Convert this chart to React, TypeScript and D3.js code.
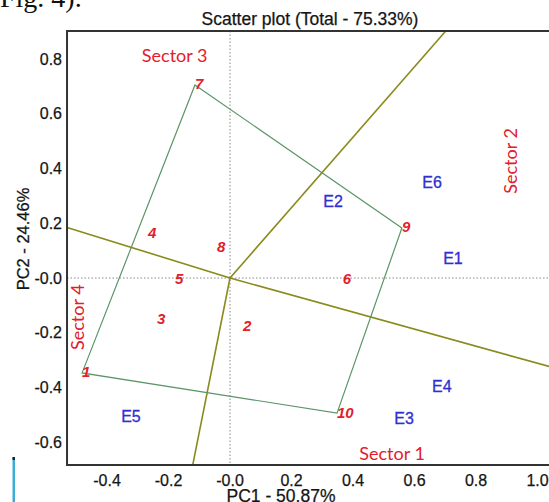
import * as d3 from "d3";

// GGE biplot "which-won-where" view: genotypes (red), environments (blue),
// convex hull of outer genotypes and sector rays perpendicular to its edges.
const genotypes = ["1", "2", "3", "4", "5", "6", "7", "8", "9", "10"];
const genoPC1 = [-0.481, 0.042, -0.237, -0.267, -0.179, 0.367, -0.114, -0.042, 0.559, 0.348];
const genoPC2 = [-0.347, -0.176, -0.15, 0.161, -0.004, -0.004, 0.706, 0.11, 0.183, -0.494];

const envs = ["E1", "E2", "E3", "E4", "E5", "E6"];
const envPC1 = [0.725, 0.335, 0.566, 0.689, -0.322, 0.657];
const envPC2 = [0.073, 0.278, -0.512, -0.395, -0.508, 0.351];

const hull = ["7", "9", "10", "1"];

const sectors = ["Sector 1", "Sector 2", "Sector 3", "Sector 4"];
const sectorPC1 = [0.527, 0.91, -0.18, -0.498];
const sectorPC2 = [-0.64, 0.428, 0.815, -0.143];
const sectorRot = [0, -90, 0, -90];

const xTicks = [-0.4, -0.2, 0, 0.2, 0.4, 0.6, 0.8, 1.0];
const yTicks = [-0.6, -0.4, -0.2, 0, 0.2, 0.4, 0.6, 0.8];

const X0 = -0.53, X1 = 1.12, Y0 = -0.684, Y1 = 0.903;

const x = d3.scaleLinear().domain([0, 1]).range([230, 537.5]);
const y = d3.scaleLinear().domain([0, 1]).range([278, 4.5]);

const RED = "#e3202a";
const BLUE = "#2f2fd2";
const OLIVE = "#8a8a1c";
const GREEN = "#5b9467";
// the original prints a plain hyphen, and "-0.0" at the origin
const fmt = (v: number) => (v === 0 ? "-0.0" : v.toFixed(1));

function rays() {
  const pts = hull.map((g) => {
    const i = genotypes.indexOf(g);
    return [genoPC1[i], genoPC2[i]];
  });
  return pts.map((a, k) => {
    const b = pts[(k + 1) % pts.length];
    const ex = b[0] - a[0], ey = b[1] - a[1];
    let dx = ey, dy = -ex;
    const mx = (a[0] + b[0]) / 2, my = (a[1] + b[1]) / 2;
    if (dx * mx + dy * my < 0) { dx = -dx; dy = -dy; }
    const ts: number[] = [];
    if (dx > 0) ts.push(X1 / dx);
    if (dx < 0) ts.push(X0 / dx);
    if (dy > 0) ts.push(Y1 / dy);
    if (dy < 0) ts.push(Y0 / dy);
    const t = Math.min(...ts);
    return [dx * t, dy * t];
  });
}

export default function App() {
  const font = "'Liberation Sans', Arial, sans-serif";
  const ink = { fill: "#151515", stroke: "#151515", strokeWidth: 0.25 };
  const hullPts = hull
    .map((g) => {
      const i = genotypes.indexOf(g);
      return `${x(genoPC1[i])},${y(genoPC2[i])}`;
    })
    .join(" ");
  return (
    <svg
      width={549}
      height={502}
      style={{ position: "fixed", left: 0, top: 0, background: "#fff" }}
    >
      <rect width={549} height={502} fill="#fff" />
      <text x={0} y={7} fontFamily="'Liberation Serif', serif" fontSize={28} fill="#111">
        Fig. 4).
      </text>
      <text x={310} y={25} textAnchor="middle" fontFamily={font} fontSize={17.5} {...ink}>
        Scatter plot (Total - 75.33%)
      </text>

      {/* reference dotted axes */}
      <line x1={x(0)} x2={x(0)} y1={y(Y1)} y2={y(Y0)} stroke="#888" strokeWidth={1} strokeDasharray="1.5,2" />
      <line x1={x(X0)} x2={x(X1)} y1={y(0)} y2={y(0)} stroke="#888" strokeWidth={1} strokeDasharray="1.5,2" />

      {/* sector rays */}
      {rays().map(([dx, dy], k) => (
        <line key={k} x1={x(0)} y1={y(0)} x2={x(dx)} y2={y(dy)} stroke={OLIVE} strokeWidth={1.6} />
      ))}

      <polygon points={hullPts} fill="none" stroke={GREEN} strokeWidth={1.2} />

      {genotypes.map((g, i) => (
        <text
          key={g}
          x={x(genoPC1[i])}
          y={y(genoPC2[i]) - 1}
          dominantBaseline="central"
          fontFamily={font}
          fontSize={15}
          fontStyle="italic"
          fontWeight={700}
          fill={RED}
        >
          {g}
        </text>
      ))}

      {envs.map((e, i) => (
        <text
          key={e}
          x={x(envPC1[i])}
          y={y(envPC2[i])}
          textAnchor="middle"
          dominantBaseline="central"
          fontFamily={font}
          fontSize={16}
          fill={BLUE}
          stroke={BLUE}
          strokeWidth={0.3}
        >
          {e}
        </text>
      ))}

      {sectors.map((s, i) => (
        <text
          key={s}
          transform={`translate(${x(sectorPC1[i])},${y(sectorPC2[i])}) rotate(${sectorRot[i]})`}
          textAnchor="middle"
          dominantBaseline="central"
          fontFamily="Lato, 'Open Sans', sans-serif"
          fontSize={18}
          fill={RED}
        >
          {s}
        </text>
      ))}

      {/* frame */}
      <path
        d={`M ${x(X1)} ${y(Y1)} H ${x(X0)} V ${y(Y0)} H ${x(X1)}`}
        fill="none"
        stroke="#333"
        strokeWidth={2}
      />

      {yTicks.map((t) => (
        <text key={t} x={62} y={y(t)} textAnchor="end" dominantBaseline="central" fontFamily={font} fontSize={16} {...ink}>
          {fmt(t)}
        </text>
      ))}
      {xTicks.map((t) => (
        <text key={t} x={x(t)} y={486} textAnchor="middle" fontFamily={font} fontSize={16} {...ink}>
          {fmt(t)}
        </text>
      ))}

      <text x={281} y={502} textAnchor="middle" fontFamily={font} fontSize={17.5} {...ink}>
        PC1 - 50.87%
      </text>
      <text
        transform="translate(29,239) rotate(-90)"
        textAnchor="middle"
        fontFamily={font}
        fontSize={16.5}
        {...ink}
      >
        PC2 - 24.46%
      </text>

      {/* stray page edge at bottom-left */}
      <rect x={12.5} y={457} width={2.5} height={45} fill="#3aaed6" />
      <rect x={12.5} y={457} width={2.5} height={3} fill="#222" />
    </svg>
  );
}
